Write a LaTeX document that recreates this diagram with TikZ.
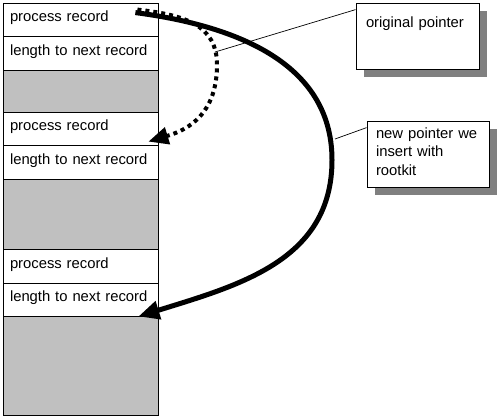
\documentclass[tikz,border=0pt]{standalone}
\usepackage{fontspec}
\setmainfont{Liberation Sans}
\usetikzlibrary{arrows.meta,shadows}
\definecolor{slot}{HTML}{C0C0C0}
\definecolor{shade}{HTML}{808080}

\begin{document}
\begin{tikzpicture}[x=1pt,y=-1pt,
  font=\fontsize{14.8}{18.5}\selectfont,
  cell/.style={draw, line width=0.8pt, fill=white, minimum width=155pt, text width=141pt,
    inner xsep=7pt, inner ysep=0pt, align=left, text height=11pt, text depth=7pt},
  spare/.style={draw, line width=0.8pt, fill=slot, minimum width=155pt, inner sep=0pt},
  note/.style={draw, line width=0.8pt, fill=white, align=left, inner ysep=5pt,
    drop shadow={shadow xshift=7.5pt, shadow yshift=-7.5pt, fill=shade, opacity=1}},
  leader/.style={line width=0.7pt},
  newlink/.style={line width=5pt, -{Triangle[length=21pt,width=18pt]}},
  oldlink/.style={line width=4pt, dash pattern=on 4pt off 4pt, -{Triangle[length=20pt,width=17pt]}}]
  \useasboundingbox (0,0) rectangle (500,418);
  % process list in memory
  \node[cell, minimum height=33pt] (pr1) at (80.5,19.5) {process record};
  \node[cell, minimum height=34pt] (len1) at (80.5,53) {length to next record};
  \node[spare, minimum height=42pt] (sp1) at (80.5,91) {};
  \node[cell, minimum height=33pt] (pr2) at (80.5,128.5) {process record};
  \node[cell, minimum height=34pt] (len2) at (80.5,162) {length to next record};
  \node[spare, minimum height=70pt] (sp2) at (80.5,214) {};
  \node[cell, minimum height=34pt] (pr3) at (80.5,266) {process record};
  \node[cell, minimum height=33pt] (len3) at (80.5,299.5) {length to next record};
  \node[spare, minimum height=99pt] (sp3) at (80.5,365.5) {};
  % original pointer
  \draw[oldlink] ([xshift=-21pt,yshift=-7pt]pr1.north east) .. controls (185,15) and (217,25) .. (217,65)
    .. controls (217,120) and (180,132) .. ([xshift=-10pt,yshift=3pt]len2.north east);
  % pointer set by the rootkit
  \draw[newlink] ([xshift=-23pt,yshift=-10pt]pr1.north east) .. controls (230,25) and (332,60) .. (332,160)
    .. controls (332,260) and (240,285) .. ([xshift=-20pt]len3.south east);
  % callouts
  \coordinate (oldptr) at (215,52);
  \coordinate (newptr) at (335,139);
  \node[note, text width=103pt, inner xsep=10pt, text height=19pt, text depth=37pt] (orig) at (417.5,36) {original pointer};
  \node[note, text width=104pt, inner xsep=9pt, text height=12pt, text depth=44pt] (newp) at (428,154) {new pointer we\\insert with\\rootkit};
  \draw[leader] ([yshift=-7pt]orig.north west) -- (oldptr);
  \draw[leader] ([yshift=-7pt]newp.north west) -- (newptr);
\end{tikzpicture}
\end{document}
